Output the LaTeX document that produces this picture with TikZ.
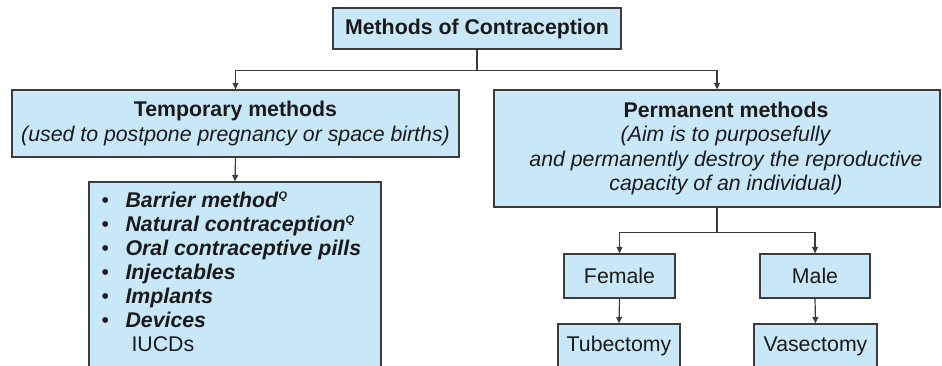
\documentclass[tikz,border=0pt]{standalone}
\usepackage{fontspec}
\setmainfont{Liberation Sans}
\usetikzlibrary{arrows.meta}
\definecolor{boxfill}{HTML}{C8E8F7}
\definecolor{boxline}{HTML}{3C3C3C}
\definecolor{ink}{HTML}{1A1A1A}
\tikzset{
  box/.style={draw=boxline, line width=1.3pt, fill=boxfill, inner sep=0pt},
  label/.style={text=ink, inner sep=0pt, align=center,
    font=\fontsize{21.3}{24.6}\selectfont},
  link/.style={draw=boxline, line width=1.2pt},
  arrowlink/.style={link, -{Triangle[length=6.5pt,width=6pt]}},
}
\newcommand{\qmark}{\raisebox{8pt}{\fontsize{11}{11}\selectfont\bfseries\itshape Q}}
\newcommand{\itembullet}{\makebox[24pt][l]{\textbullet}}
\begin{document}
\begin{tikzpicture}[x=1pt,y=-1pt]
  \useasboundingbox (0,0) rectangle (942,366);
  \fill[white] (0,0) rectangle (942,366);
  \clip (0,0) rectangle (942,366);

  % boxes
  \node[box, minimum width=288pt, minimum height=41pt] (title) at (477,28.5) {};
  \node[box, minimum width=447pt, minimum height=67pt] (temp) at (235.5,123.5) {};
  \node[box, minimum width=446pt, minimum height=117pt] (perm) at (717,148.5) {};
  \node[box, minimum width=292pt, minimum height=190pt] (list) at (235,277) {};
  \node[box, minimum width=111pt, minimum height=44pt] (female) at (619.5,276) {};
  \node[box, minimum width=110pt, minimum height=44pt] (male) at (815,276) {};
  \node[box, minimum width=122pt, minimum height=44pt] (tube) at (619,346) {};
  \node[box, minimum width=123pt, minimum height=44pt] (vas) at (815.5,346) {};

  % texts
  \node[label, font=\fontsize{21.3}{24.6}\selectfont\bfseries] (titletext) at (title) {Methods of Contraception};
  \node[label] (temptext) at (temp) {\textbf{Temporary methods}\\
    \textit{(used to postpone pregnancy or space births)}};
  \node[label] (permtext) at ([xshift=9pt]perm.center) {\textbf{Permanent methods}\\
    \textit{(Aim is to purposefully}\\
    \textit{and permanently destroy the reproductive}\\
    \textit{capacity of an individual)}};
  \node[label, align=left, anchor=north west, font=\fontsize{21.3}{24}\selectfont]
    (items) at ([xshift=13pt,yshift=-10pt]list.north west) {%
    \itembullet\textbf{\textit{Barrier method}}\qmark\\
    \itembullet\textbf{\textit{Natural contraception}}\qmark\\
    \itembullet\textbf{\textit{Oral contraceptive pills}}\\
    \itembullet\textbf{\textit{Injectables}}\\
    \itembullet\textbf{\textit{Implants}}\\
    \itembullet\textbf{\textit{Devices}}\\
    \hspace{30pt}IUCDs};
  \node[label] (femaletext) at (female) {Female};
  \node[label] (maletext) at (male) {Male};
  \node[label] (tubetext) at (tube) {Tubectomy};
  \node[label] (vastext) at (vas) {Vasectomy};

  % connectors
  \draw[link] (title.south) -- ++(0,20.5) coordinate (split1);
  \draw[arrowlink] (split1) -| (temp.north);
  \draw[arrowlink] (split1) -| (perm.north);
  \draw[arrowlink] (temp.south) -- (list.north);
  \draw[link] (perm.south) -- ++(0,25) coordinate (split2);
  \draw[arrowlink] (split2) -| (female.north);
  \draw[arrowlink] (split2) -| (male.north);
  \draw[arrowlink] (female.south) -- (tube.north);
  \draw[arrowlink] (male.south) -- (vas.north);
\end{tikzpicture}
\end{document}
